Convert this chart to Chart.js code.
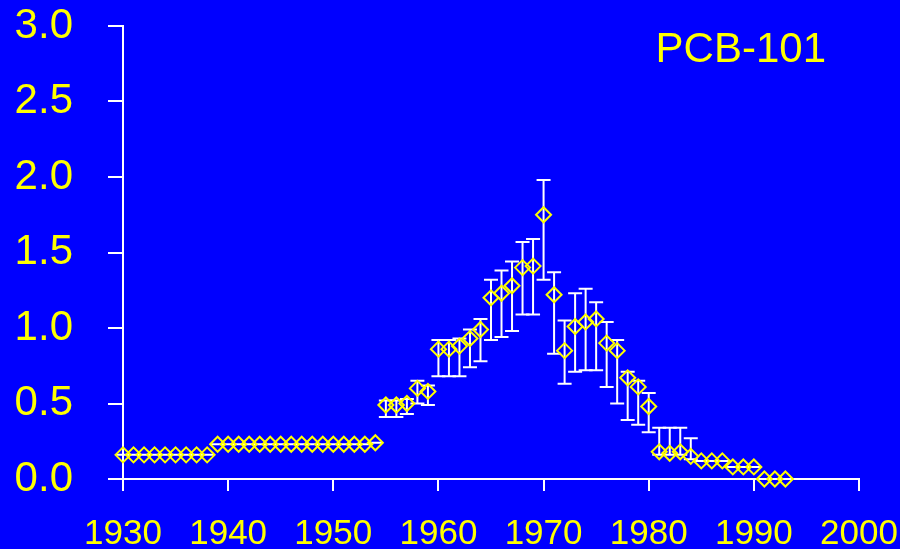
<!DOCTYPE html>
<html>
<head>
<meta charset="utf-8">
<script src="https://cdn.jsdelivr.net/npm/chart.js@4.4.1/dist/chart.umd.min.js"></script>
<style>
  html, body { margin: 0; padding: 0; background: #0000ff; }
  #wrap { width: 900px; height: 549px; position: relative; }
</style>
</head>
<body>
<div id="wrap"><canvas id="c" width="900" height="549"></canvas></div>
<script>
// ---- data ----
const years = [
  1930,1931,1932,1933,1934,1935,1936,1937,1938,1939,
  1940,1941,1942,1943,1944,1945,1946,1947,1948,1949,
  1950,1951,1952,1953,1954,1955,1956,1957,1958,1959,
  1960,1961,1962,1963,1964,1965,1966,1967,1968,1969,
  1970,1971,1972,1973,1974,1975,1976,1977,1978,1979,
  1980,1981,1982,1983,1984,1985,1986,1987,1988,1989,
  1990,1991,1992,1993
];
const values = [
  0.16,0.16,0.16,0.16,0.16,0.16,0.16,0.16,0.16,0.23,
  0.23,0.23,0.23,0.23,0.23,0.23,0.23,0.23,0.23,0.23,
  0.23,0.23,0.23,0.23,0.24,0.49,0.49,0.50,0.60,0.58,
  0.86,0.86,0.88,0.93,0.99,1.20,1.23,1.28,1.40,1.41,
  1.75,1.22,0.85,1.01,1.04,1.06,0.90,0.85,0.67,0.61,
  0.48,0.18,0.17,0.18,0.15,0.12,0.12,0.12,0.08,0.08,
  0.08,0.00,0.00,0.00
];
const errLow = [
  0.16,0.16,0.16,0.16,0.16,0.16,0.16,0.16,0.16,0.23,
  0.23,0.23,0.23,0.23,0.23,0.23,0.23,0.23,0.23,0.23,
  0.23,0.23,0.23,0.23,0.24,0.41,0.41,0.43,0.50,0.49,
  0.68,0.68,0.68,0.74,0.78,0.92,0.94,0.98,1.09,1.09,
  1.32,0.83,0.63,0.71,0.72,0.72,0.61,0.50,0.39,0.36,
  0.31,0.16,0.16,0.16,0.13,0.12,0.12,0.12,0.08,0.08,
  0.08,0.00,0.00,0.00
];
const errHigh = [
  0.16,0.16,0.16,0.16,0.16,0.16,0.16,0.16,0.16,0.23,
  0.23,0.23,0.23,0.23,0.23,0.23,0.23,0.23,0.23,0.23,
  0.23,0.23,0.23,0.23,0.24,0.52,0.52,0.53,0.65,0.62,
  0.92,0.92,0.93,0.99,1.06,1.32,1.38,1.44,1.57,1.59,
  1.98,1.37,1.05,1.23,1.26,1.17,1.04,0.92,0.71,0.65,
  0.57,0.34,0.34,0.34,0.27,0.12,0.12,0.12,0.08,0.08,
  0.08,0.00,0.00,0.00
];
const chartTitle = 'PCB-101';

// ---- styles ----
const YELLOW = '#ffff00';
const WHITE = '#ffffff';
const FONT = "'Liberation Sans', Arial, sans-serif";

const errorBars = {
  id: 'errorBars',
  beforeDatasetsDraw(chart) {
    const {ctx, scales: {x, y}} = chart;
    ctx.save();
    ctx.strokeStyle = WHITE;
    ctx.lineWidth = 2;
    const cap = 7;
    for (let i = 0; i < years.length; i++) {
      const px = x.getPixelForValue(years[i]);
      const yl = y.getPixelForValue(errLow[i]);
      const yh = y.getPixelForValue(errHigh[i]);
      ctx.beginPath();
      ctx.moveTo(px, yl); ctx.lineTo(px, yh);
      ctx.moveTo(px - cap, yl); ctx.lineTo(px + cap, yl);
      ctx.moveTo(px - cap, yh); ctx.lineTo(px + cap, yh);
      ctx.stroke();
    }
    ctx.restore();
  }
};

const titleText = {
  id: 'titleText',
  afterDraw(chart) {
    const {ctx, chartArea} = chart;
    ctx.save();
    ctx.fillStyle = YELLOW;
    ctx.font = '42px ' + FONT;
    ctx.textAlign = 'right';
    ctx.textBaseline = 'alphabetic';
    ctx.fillText(chartTitle, chartArea.right - 33, chartArea.top + 35.5);
    ctx.restore();
  }
};

function noEdgePad(s) { s.paddingTop = 0; s.paddingBottom = 0; s.paddingLeft = 0; s.paddingRight = 0; }

new Chart(document.getElementById('c'), {
  type: 'scatter',
  data: {
    datasets: [{
      data: years.map((yr, i) => ({x: yr, y: values[i]})),
      pointStyle: 'rectRot',
      pointRadius: 7.5,
      pointHoverRadius: 7.5,
      borderColor: YELLOW,
      backgroundColor: 'rgba(0,0,0,0)',
      borderWidth: 2,
      showLine: false,
      clip: false
    }]
  },
  options: {
    responsive: false,
    animation: false,
    events: [],
    layout: { padding: { top: 26, right: 41, left: 0, bottom: 0 } },
    plugins: { legend: { display: false }, tooltip: { enabled: false }, title: { display: false } },
    scales: {
      x: {
        type: 'linear',
        min: 1930, max: 2000,
        afterFit(s) { s.height = 70; noEdgePad(s); },
        border: { display: true, color: WHITE, width: 2 },
        grid: { display: true, drawOnChartArea: false, drawTicks: true, tickLength: 12, color: WHITE, lineWidth: 2 },
        ticks: { stepSize: 10, color: YELLOW, padding: 22, font: { family: FONT, size: 35 }, maxRotation: 0, callback: v => String(v) }
      },
      y: {
        type: 'linear',
        min: 0, max: 3,
        afterFit(s) { s.width = 123; noEdgePad(s); },
        border: { display: true, color: WHITE, width: 2 },
        grid: { display: true, drawOnChartArea: false, drawTicks: true, tickLength: 15, color: WHITE, lineWidth: 2 },
        ticks: { stepSize: 0.5, color: YELLOW, padding: 35, font: { family: FONT, size: 42 }, callback: v => Number(v).toFixed(1) }
      }
    }
  },
  plugins: [errorBars, titleText]
});
</script>
</body>
</html>
